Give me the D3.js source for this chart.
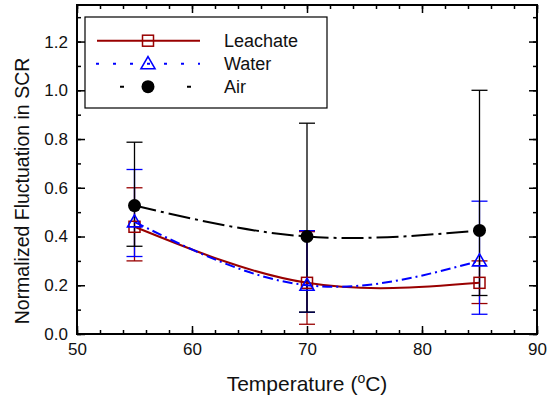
<!DOCTYPE html>
<html>
<head>
<meta charset="utf-8">
<script src="https://cdn.jsdelivr.net/npm/d3@7"></script>
<style>
  html, body { margin: 0; padding: 0; background: #fff; }
  svg { display: block; font-family: "Liberation Sans", Arial, sans-serif; }
</style>
</head>
<body>
<svg id="chart" width="549" height="402"></svg>
<script>
// Temperatures (°C) at which SCR fluctuation was measured
const temperatures = [55, 70, 85];

// Mean normalized fluctuation and error-bar limits per medium
const leachateMean = [0.44, 0.21, 0.21];
const leachateLow  = [0.30, 0.04, 0.125];
const leachateHigh = [0.60, 0.42, 0.30];

const waterMean = [0.46, 0.20, 0.30];
const waterLow  = [0.318, 0.089, 0.081];
const waterHigh = [0.675, 0.424, 0.545];

const airMean = [0.527, 0.40, 0.425];
const airLow  = [0.36, 0.09, 0.158];
const airHigh = [0.787, 0.865, 1.0];

const seriesNames = ["Leachate", "Water", "Air"];

const xTicks = [50, 60, 70, 80, 90];
const yTicks = [0.0, 0.2, 0.4, 0.6, 0.8, 1.0, 1.2];

const svg = d3.select("#chart");
const plotLeft = 77, plotRight = 537, plotTop = 5, plotBottom = 334;

const x = d3.scaleLinear().domain([50, 90]).range([plotLeft, plotRight]);
const y = d3.scaleLinear().domain([0, 1.35]).range([plotBottom, plotTop]);

const series = [
  { name: seriesNames[0], mean: leachateMean, lo: leachateLow, hi: leachateHigh,
    color: "#990000", dash: null, marker: "square" },
  { name: seriesNames[1], mean: waterMean, lo: waterLow, hi: waterHigh,
    color: "#0000ff", dash: "10,4,2,4", marker: "triangle" },
  { name: seriesNames[2], mean: airMean, lo: airLow, hi: airHigh,
    color: "#000000", dash: "22,5,3,5", marker: "circle" }
];

// Axes: inward ticks on all four sides
const minorX = d3.range(50, 90.01, 2);
const minorY = d3.range(0, 1.351, 0.1);

svg.append("g").attr("transform", `translate(0,${plotBottom})`)
  .call(d3.axisBottom(x).tickValues(minorX).tickSize(-4).tickFormat(""))
  .call(g => g.select(".domain").remove());
svg.append("g").attr("transform", `translate(0,${plotBottom})`)
  .call(d3.axisBottom(x).tickValues(xTicks).tickSize(-8).tickPadding(9).tickFormat(d3.format("d")))
  .call(g => g.select(".domain").remove());
svg.append("g").attr("transform", `translate(0,${plotTop})`)
  .call(d3.axisTop(x).tickValues(minorX).tickSize(-4).tickFormat(""))
  .call(g => g.select(".domain").remove());
svg.append("g").attr("transform", `translate(0,${plotTop})`)
  .call(d3.axisTop(x).tickValues(xTicks).tickSize(-8).tickFormat(""))
  .call(g => g.select(".domain").remove());

svg.append("g").attr("transform", `translate(${plotLeft},0)`)
  .call(d3.axisLeft(y).tickValues(minorY).tickSize(-4).tickFormat(""))
  .call(g => g.select(".domain").remove());
svg.append("g").attr("transform", `translate(${plotLeft},0)`)
  .call(d3.axisLeft(y).tickValues(yTicks).tickSize(-8).tickPadding(9).tickFormat(d3.format(".1f")))
  .call(g => g.select(".domain").remove());
svg.append("g").attr("transform", `translate(${plotRight},0)`)
  .call(d3.axisRight(y).tickValues(minorY).tickSize(-4).tickFormat(""))
  .call(g => g.select(".domain").remove());
svg.append("g").attr("transform", `translate(${plotRight},0)`)
  .call(d3.axisRight(y).tickValues(yTicks).tickSize(-8).tickFormat(""))
  .call(g => g.select(".domain").remove());

svg.selectAll(".tick line").attr("stroke", "#000").attr("stroke-width", 1.5);
svg.selectAll(".tick text").attr("font-size", 17).attr("fill", "#111")
  .attr("font-family", "Liberation Sans, Arial, sans-serif");

// Plot frame
svg.append("rect")
  .attr("x", plotLeft).attr("y", plotTop)
  .attr("width", plotRight - plotLeft).attr("height", plotBottom - plotTop)
  .attr("fill", "none").attr("stroke", "#000").attr("stroke-width", 2);

// Error bars
series.forEach(s => {
  const g = svg.append("g").attr("stroke", s.color).attr("stroke-width", 1.3);
  temperatures.forEach((t, i) => {
    const cx = x(t);
    g.append("line").attr("x1", cx).attr("x2", cx).attr("y1", y(s.lo[i])).attr("y2", y(s.hi[i]));
    g.append("line").attr("x1", cx - 8).attr("x2", cx + 8).attr("y1", y(s.lo[i])).attr("y2", y(s.lo[i]));
    g.append("line").attr("x1", cx - 8).attr("x2", cx + 8).attr("y1", y(s.hi[i])).attr("y2", y(s.hi[i]));
  });
});

// Smoothed curves through the means
const line = d3.line().x(d => x(d[0])).y(d => y(d[1])).curve(d3.curveNatural);
series.forEach(s => {
  svg.append("path")
    .datum(temperatures.map((t, i) => [t, s.mean[i]]))
    .attr("d", line)
    .attr("fill", "none")
    .attr("stroke", s.color)
    .attr("stroke-width", 2)
    .attr("stroke-dasharray", s.dash);
});

function drawMarker(g, type, cx, cy, color) {
  if (type === "square") {
    g.append("rect").attr("x", cx - 5.5).attr("y", cy - 5.5).attr("width", 11).attr("height", 11)
      .attr("fill", "none").attr("stroke", color).attr("stroke-width", 1.5);
  } else if (type === "triangle") {
    g.append("path").attr("d", `M${cx},${cy - 7} L${cx + 7},${cy + 5} L${cx - 7},${cy + 5} Z`)
      .attr("fill", "none").attr("stroke", color).attr("stroke-width", 1.6);
  } else {
    g.append("circle").attr("cx", cx).attr("cy", cy).attr("r", 6.5).attr("fill", color);
  }
}

// Markers
series.forEach(s => {
  const g = svg.append("g");
  temperatures.forEach((t, i) => drawMarker(g, s.marker, x(t), y(s.mean[i]), s.color));
});

// Legend
const legend = svg.append("g");
legend.append("rect").attr("x", 85).attr("y", 17).attr("width", 242).attr("height", 91)
  .attr("fill", "#fff").attr("stroke", "#000").attr("stroke-width", 1.2);
const legendDash = [null, "3,14", "4,63"];
const legendStart = [97, 96, 120];
series.forEach((s, i) => {
  const ly = 40.7 + i * 23;
  legend.append("line").attr("x1", legendStart[i]).attr("x2", 200).attr("y1", ly).attr("y2", ly)
    .attr("stroke", s.color).attr("stroke-width", 2).attr("stroke-dasharray", legendDash[i]);
  drawMarker(legend, s.marker, 148, ly, s.color);
  legend.append("text").attr("x", 224).attr("y", ly + 6.5).attr("font-size", 18).attr("fill", "#111")
    .text(s.name);
});

// Axis titles
const xt = svg.append("text").attr("x", 307).attr("y", 391).attr("text-anchor", "middle")
  .attr("font-size", 21).attr("fill", "#111");
xt.append("tspan").text("Temperature (");
xt.append("tspan").attr("font-size", 14).attr("dy", -8).text("o");
xt.append("tspan").attr("dy", 8).text("C)");

svg.append("text")
  .attr("transform", "translate(29,191) rotate(-90)")
  .attr("text-anchor", "middle").attr("font-size", 19.5).attr("fill", "#111")
  .text("Normalized Fluctuation in SCR");
</script>
</body>
</html>
